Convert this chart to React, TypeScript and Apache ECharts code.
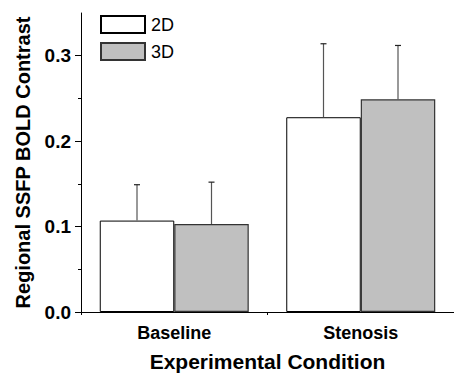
import React, { useEffect, useRef } from "react";
import * as echarts from "echarts";

const categories = ["Baseline", "Stenosis"];
const series2D = [0.107, 0.228];
const series3D = [0.103, 0.249];
const err2D = [0.042, 0.086];
const err3D = [0.049, 0.063];
const yMajorTicks = [0, 0.1, 0.2, 0.3];
const yMinorTicks = [0.05, 0.15, 0.25];

const FONT = "Liberation Sans, Arial, sans-serif";
const BAR_W = 74.5;

function errSeries(name: string, vals: number[], errs: number[], offset: number) {
  return {
    type: "custom",
    name: name + "-err",
    xAxisIndex: 0,
    yAxisIndex: 0,
    z: 5,
    silent: true,
    data: vals.map((v, i) => [i, v, v + errs[i]]),
    renderItem: (params: any, api: any) => {
      const lo = api.coord([api.value(0), api.value(1)]);
      const hi = api.coord([api.value(0), api.value(2)]);
      const x = lo[0] + offset;
      const cap = 3;
      return {
        type: "group",
        children: [
          {
            type: "line",
            shape: { x1: x, y1: lo[1], x2: x, y2: hi[1] },
            style: { stroke: "#555", lineWidth: 1.2 },
          },
          {
            type: "line",
            shape: { x1: x - cap, y1: hi[1], x2: x + cap, y2: hi[1] },
            style: { stroke: "#222", lineWidth: 1.2 },
          },
        ],
      };
    },
  };
}

export default function App() {
  const ref = useRef<HTMLDivElement>(null);
  useEffect(() => {
    if (!ref.current) return;
    const chart = echarts.init(ref.current, null, { renderer: "svg" });
    chart.setOption({
      animation: false,
      backgroundColor: "#fff",
      textStyle: { fontFamily: FONT },
      grid: { left: 81, right: 0, top: 13, bottom: 63 },
      legend: {
        orient: "vertical",
        left: 100,
        top: 15,
        padding: 0,
        itemWidth: 44,
        itemHeight: 17,
        itemGap: 8,
        icon: "rect",
        data: ["2D", "3D"],
        textStyle: { fontFamily: FONT, fontSize: 18, color: "#000", padding: [0, 0, 0, 1] },
      },
      xAxis: [
        {
          type: "category",
          data: categories,
          position: "bottom",
          name: "Experimental Condition",
          nameLocation: "middle",
          nameGap: 39,
          nameTextStyle: { fontFamily: FONT, fontSize: 21, fontWeight: "bold", color: "#000" },
          axisLine: { lineStyle: { color: "#000", width: 1 } },
          axisTick: { alignWithLabel: true, length: 6, lineStyle: { color: "#000" } },
          axisLabel: { fontFamily: FONT, fontSize: 18, fontWeight: "bold", color: "#000", margin: 12 },
          splitLine: { show: false },
        },
        {
          type: "category",
          data: categories,
          position: "bottom",
          axisLine: { show: false },
          axisTick: { show: true, length: 3, lineStyle: { color: "#000" } },
          axisLabel: { show: false },
          splitLine: { show: false },
        },
      ],
      yAxis: [
        {
          type: "value",
          min: 0,
          max: 0.35,
          interval: 0.1,
          name: "Regional SSFP BOLD Contrast",
          nameLocation: "middle",
          nameRotate: 90,
          nameGap: 48,
          nameTextStyle: { fontFamily: FONT, fontSize: 20, fontWeight: "bold", color: "#000" },
          axisLine: { show: true, lineStyle: { color: "#000", width: 1 } },
          axisTick: { show: true, length: 6, customValues: yMajorTicks, lineStyle: { color: "#000" } },
          axisLabel: {
            fontFamily: FONT,
            fontSize: 19,
            fontWeight: "bold",
            color: "#000",
            margin: 10,
            customValues: yMajorTicks,
            formatter: (v: number) => v.toFixed(1),
          },
          splitLine: { show: false },
        },
        {
          type: "value",
          min: 0,
          max: 0.35,
          position: "left",
          axisLine: { show: false },
          axisTick: { show: true, length: 3, customValues: yMinorTicks, lineStyle: { color: "#000" } },
          axisLabel: { show: false },
          splitLine: { show: false },
        },
      ],
      series: [
        {
          name: "2D",
          type: "bar",
          data: series2D,
          barWidth: BAR_W,
          barGap: "0%",
          itemStyle: { color: "#ffffff", borderColor: "#000", borderWidth: 1 },
        },
        {
          name: "3D",
          type: "bar",
          data: series3D,
          barWidth: BAR_W,
          barGap: "0%",
          itemStyle: { color: "#c0c0c0", borderColor: "#333", borderWidth: 1.2 },
        },
        errSeries("2D", series2D, err2D, -BAR_W / 2),
        errSeries("3D", series3D, err3D, BAR_W / 2),
      ],
    });
    return () => chart.dispose();
  }, []);
  return (
    <div
      ref={ref}
      style={{ position: "fixed", left: 0, top: 0, width: 454, height: 377 }}
    />
  );
}
